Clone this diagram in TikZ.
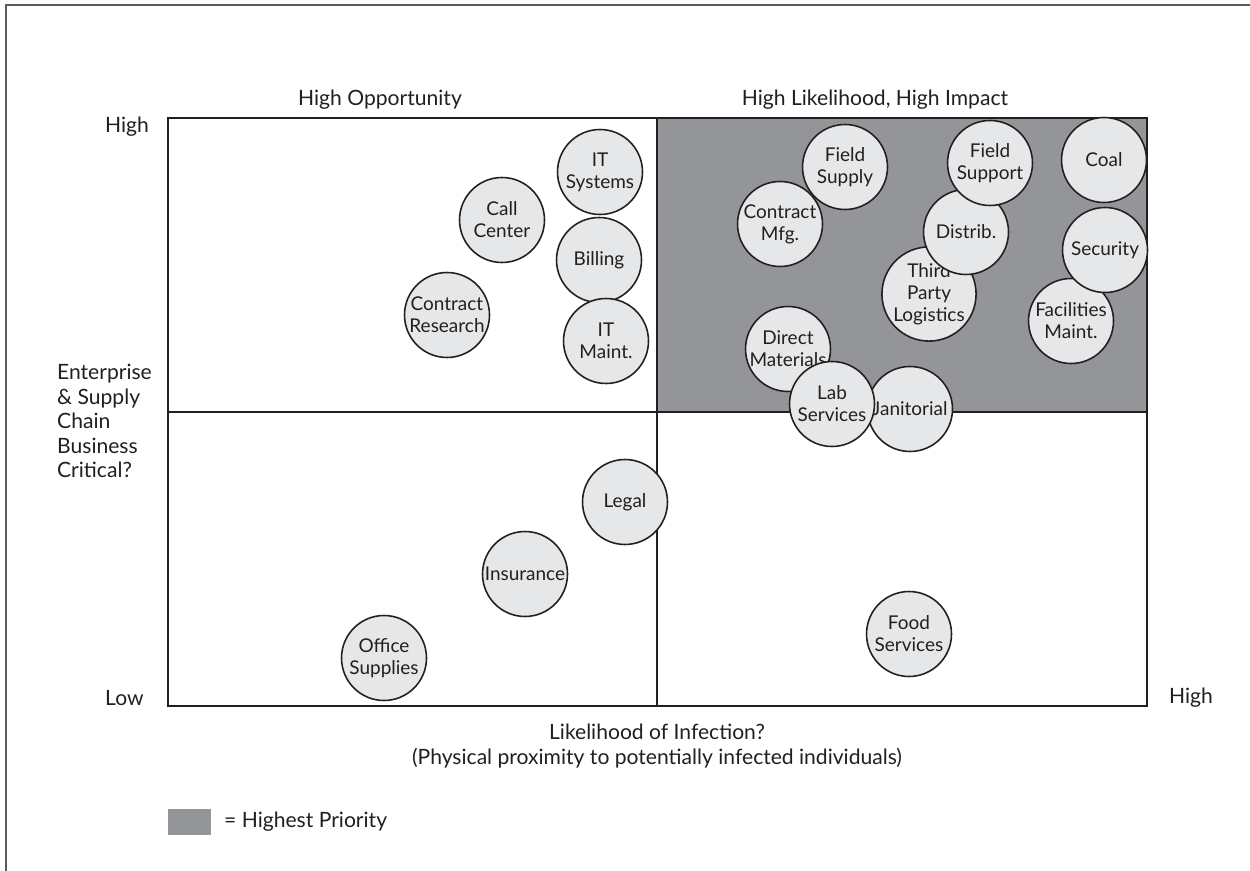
\documentclass[tikz,border=0pt]{standalone}
\usepackage{fontspec}
\setmainfont{Lato}
\definecolor{priogray}{HTML}{939598}
\definecolor{bubblefill}{HTML}{E6E7E8}
\definecolor{framegray}{HTML}{5A5A5A}
\definecolor{inkdark}{HTML}{231F20}
\tikzset{
  bubble/.style={circle,draw=inkdark,line width=0.9pt,fill=bubblefill,
    minimum size=1.7cm,inner sep=0pt,align=center,text=inkdark,
    font=\fontsize{10.8}{12.6}\selectfont},
  axislabel/.style={text=inkdark,font=\fontsize{12}{14}\selectfont}
}
\begin{document}
\begin{tikzpicture}[x=0.02cm,y=-0.02cm]
\useasboundingbox (0,0) rectangle (1250,871);
\draw[framegray,line width=1.1pt] (6,871)--(6,5)--(1250,5);
% quadrants
\fill[priogray] (657,118) rectangle (1147,412);
\draw[inkdark,line width=1pt] (168,118) rectangle (1147,706);
\draw[inkdark,line width=1pt] (657,118)--(657,706) (168,412)--(1147,412);
\node[axislabel] (tl) at (380,100) {High Opportunity};
\node[axislabel] (tr) at (875,100) {High Likelihood, High Impact};
\node[axislabel,anchor=west] (yhigh) at (99,127) {High};
\node[axislabel,anchor=west] (ylow) at (99,698) {Low};
\node[axislabel,anchor=west] (xhigh) at (1163,698) {High};
\node[axislabel,anchor=west,align=left] (ytitle) at (51,421)
  {Enterprise\\\& Supply\\Chain\\Business\\Critical?};
\node[axislabel,align=center] (xtitle) at (657,746)
  {Likelihood of Infection?\\(Physical proximity to potentially infected individuals)};
% low priority side
\node[bubble] (itsys) at (600,172) {IT\\Systems};
\node[bubble] (callctr) at (502,220) {Call\\Center};
\node[bubble] (ctrres) at (447,315) {Contract\\Research};
\node[bubble] (billing) at (599,260) {Billing};
\node[bubble] (itmaint) at (606,341) {IT\\Maint.};
\node[bubble] (legal) at (625,502) {Legal};
\node[bubble] (insur) at (525,574) {Insurance};
\node[bubble] (office) at (384,658) {Office\\Supplies};
\node[bubble] (food) at (909,634) {Food\\Services};
% high priority side
\node[bubble] (fsupply) at (845,167) {Field\\Supply};
\node[bubble] (cmfg) at (780,224) {Contract\\Mfg.};
\node[bubble] (tpl) at (929,294) {Third\\Party\\Logistics};
\node[bubble] (distrib) at (966,232) {Distrib.};
\node[bubble] (fsupport) at (990,163) {Field\\Support};
\node[bubble] (coal) at (1104,160) {Coal};
\node[bubble] (facil) at (1071,321) {Facilities\\Maint.};
\node[bubble] (security) at (1105,250) {Security};
\node[bubble] (dirmat) at (788,349) {Direct\\Materials};
\node[bubble] (janit) at (910,409) {Janitorial};
\node[bubble] (lab) at (832,404) {Lab\\Services};
% legend
\fill[priogray] (168,809) rectangle (211,835);
\node[axislabel,anchor=west] (legend) at (218,822) {= Highest Priority};
\end{tikzpicture}
\end{document}
